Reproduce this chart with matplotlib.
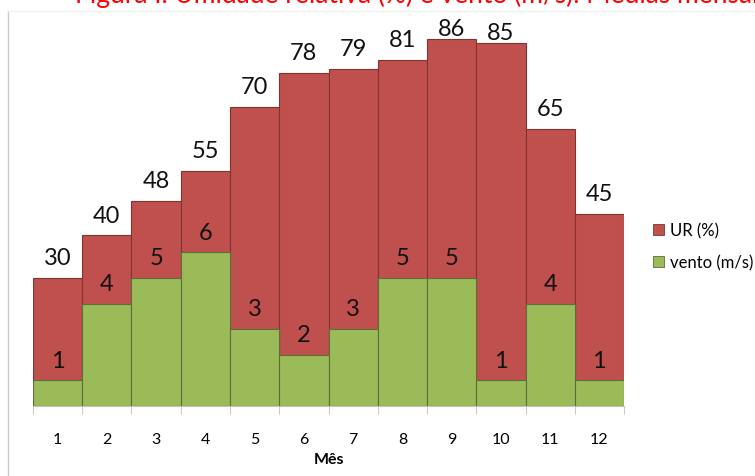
import matplotlib
matplotlib.use("Agg")
import matplotlib.pyplot as plt
from matplotlib.lines import Line2D
from matplotlib.patches import Patch

meses = [1, 2, 3, 4, 5, 6, 7, 8, 9, 10, 11, 12]
ur = [30, 40, 48, 55, 70, 78, 79, 81, 86, 85, 65, 45]
vento = [1, 4, 5, 6, 3, 2, 3, 5, 5, 1, 4, 1]

plt.rcParams['font.family'] = ['Lato', 'DejaVu Sans']

red = '#C0504D'
green = '#9BBB59'

fig = plt.figure(figsize=(7.55, 4.77), dpi=100)
ax = fig.add_axes([0.0437, 0.1468, 0.7828, 0.7902])
ax2 = ax.twinx()

ax.bar(meses, ur, width=1.0, color=red, edgecolor='#7F3432', linewidth=0.8, zorder=1)
ax2.bar(meses, vento, width=1.0, color=green, edgecolor='#5E6E3A', linewidth=0.8, zorder=2)

ax.set_xlim(0.5, 12.5)
ax.set_ylim(0, 88.3)
ax2.set_ylim(0, 14.72)

# labels near the top get pushed down (like excel does)
for x, v in zip(meses, ur):
    off = 7 if v < 84 else 0
    ax.annotate(str(v), (x, v), xytext=(0, off), textcoords='offset points',
                ha='center', va='bottom', fontsize=17, color='#111111')
for x, v in zip(meses, vento):
    ax2.annotate(str(v), (x, v), xytext=(0, 7), textcoords='offset points',
                 ha='center', va='bottom', fontsize=17, color='#111111')

for a in (ax, ax2):
    for s in ('top', 'right', 'left'):
        a.spines[s].set_visible(False)
    a.set_yticks([])
ax2.spines['bottom'].set_visible(False)
ax.spines['bottom'].set_color('#BFBFBF')

ax.set_xticks(meses)
ax.set_xticklabels([str(m) for m in meses], fontsize=11.5)
ax.set_xticks([m + 0.5 for m in [0] + meses], minor=True)
ax.tick_params(axis='x', which='major', length=0, pad=19)
ax.tick_params(axis='x', which='minor', length=6, color='#BFBFBF', direction='out')
ax.set_xlabel('Mês', fontsize=11.5, fontweight='bold', labelpad=4)

handles = [Patch(facecolor=red, edgecolor='#7F3432', linewidth=0.6),
           Patch(facecolor=green, edgecolor='#5E6E3A', linewidth=0.6)]
fig.legend(handles, ['UR (%)', 'vento (m/s)'], loc='center left',
           bbox_to_anchor=(0.845, 0.481), frameon=False, fontsize=12,
           handlelength=0.65, handleheight=0.65, handletextpad=0.35, labelspacing=0.95)

fig.text(75 / 755, 1 - 3 / 477, 'Figura I. Umidade relativa (%) e vento (m/s). Médias mensais',
         color='red', fontsize=19, ha='left', va='baseline')
fig.add_artist(Line2D([8 / 755, 8 / 755], [0, 1 - 12 / 477], color='#C8C8C8', linewidth=1))
fig.add_artist(Line2D([8 / 755, 1], [1 - 12 / 477, 1 - 12 / 477], color='#F0F0F0', linewidth=1))

fig.savefig('out.png', dpi=100)
